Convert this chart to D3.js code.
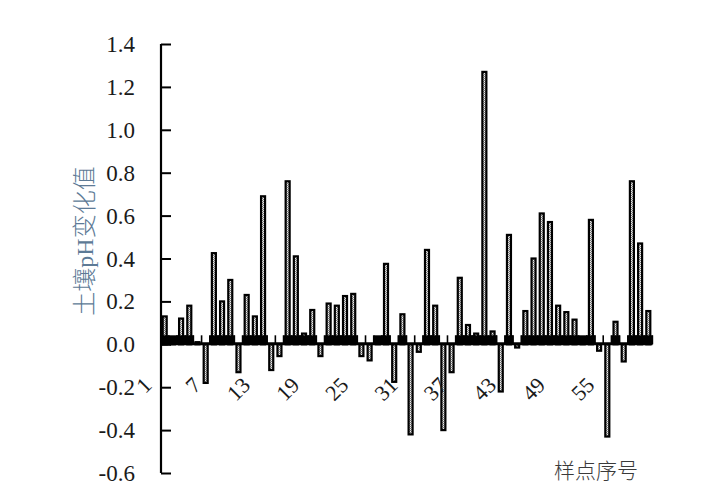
<!DOCTYPE html>
<html>
<head>
<meta charset="utf-8">
<script src="https://cdn.jsdelivr.net/npm/d3@7"></script>
<style>
  html, body { margin: 0; padding: 0; background: #fff; }
  svg { display: block; }
</style>
</head>
<body>
<svg id="chart" width="717" height="490"></svg>
<script>
// ---- data ----
const samples = d3.range(1, 61);
const phChange = [
  0.13, 0.03, 0.12, 0.18, 0.01, -0.18, 0.425, 0.20, 0.30, -0.13,
  0.23, 0.13, 0.69, -0.12, -0.055, 0.76, 0.41, 0.05, 0.16, -0.055,
  0.19, 0.18, 0.225, 0.235, -0.055, -0.075, 0.03, 0.375, -0.175, 0.14,
  -0.42, -0.035, 0.44, 0.18, -0.40, -0.13, 0.31, 0.09, 0.05, 1.27,
  0.06, -0.22, 0.51, -0.015, 0.155, 0.40, 0.61, 0.57, 0.18, 0.15,
  0.115, 0.03, 0.58, -0.03, -0.43, 0.105, -0.08, 0.76, 0.47, 0.155
];
const xTickLabels = [1, 7, 13, 19, 25, 31, 37, 43, 49, 55];
const yTickValues = [-0.6, -0.4, -0.2, 0.0, 0.2, 0.4, 0.6, 0.8, 1.0, 1.2, 1.4];
const yTickLabels = ["-0.6", "-0.4", "-0.2", "0.0", "0.2", "0.4", "0.6", "0.8", "1.0", "1.2", "1.4"];
const yTitle = "土壤pH变化值";
const xTitle = "样点序号";

// ---- drawing ----
const svg = d3.select("#chart");
svg.append("rect").attr("width", 717).attr("height", 490).attr("fill", "#fff");

const defs = svg.append("defs");
const pat = defs.append("pattern").attr("id", "dots")
  .attr("width", 2).attr("height", 2).attr("patternUnits", "userSpaceOnUse");
pat.append("rect").attr("width", 2).attr("height", 2).attr("fill", "#eeeeee");
pat.append("rect").attr("width", 1).attr("height", 1).attr("fill", "#7a7a7a");
pat.append("rect").attr("x", 1).attr("y", 1).attr("width", 1).attr("height", 1).attr("fill", "#7a7a7a");

const x = d3.scaleBand().domain(samples).range([160.6, 652.4]).paddingInner(0).paddingOuter(0);
const y = d3.scaleLinear().domain([-0.6, 1.4]).range([473, 44]);
const y0 = y(0);
const data = samples.map((s, i) => ({ s, v: phChange[i] }));
const fontSerif = "'Liberation Serif', 'Times New Roman', serif";

// bars
const bw = 4.0;
svg.append("g").selectAll("rect").data(data).join("rect")
  .attr("x", d => x(d.s) + x.bandwidth() / 2 - bw / 2)
  .attr("y", d => Math.min(y(d.v), y0))
  .attr("width", bw)
  .attr("height", d => Math.max(0.5, Math.abs(y(d.v) - y0)))
  .attr("fill", "url(#dots)")
  .attr("stroke", "#000")
  .attr("stroke-width", 2.2);

// black band at base of positive bars
const bandH = 9;
svg.append("g").selectAll("rect").data(data.filter(d => d.v >= 0.02)).join("rect")
  .attr("x", d => x(d.s))
  .attr("y", y0 - bandH)
  .attr("width", x.bandwidth() + 0.3)
  .attr("height", bandH)
  .attr("fill", "#000");

// x axis (at zero) with inward ticks at every category boundary
const xAxisG = svg.append("g");
xAxisG.selectAll("line.tk").data(samples).join("line")
  .attr("class", "tk")
  .attr("x1", d => x(d) + x.bandwidth())
  .attr("x2", d => x(d) + x.bandwidth())
  .attr("y1", y0).attr("y2", y0 - bandH)
  .attr("stroke", "#000").attr("stroke-width", 1.6);
xAxisG.append("line")
  .attr("x1", 160.6).attr("x2", 652.4)
  .attr("y1", y0 - 0.5).attr("y2", y0 - 0.5)
  .attr("stroke", "#000").attr("stroke-width", 3);

// x tick labels (rotated)
svg.append("g").selectAll("text").data(xTickLabels).join("text")
  .attr("transform", d => `translate(${x(d) + x.bandwidth() / 2 - 17},381) rotate(-45)`)
  .attr("text-anchor", "end")
  .attr("dy", "0.35em")
  .attr("font-family", fontSerif)
  .attr("font-size", 22)
  .attr("fill", "#1a1a1a")
  .text(d => d);

// y axis
const yAxis = d3.axisRight(y)
  .tickValues(yTickValues)
  .tickSize(10)
  .tickFormat("");
const yG = svg.append("g").attr("transform", "translate(161,0)").call(yAxis);
yG.select(".domain").attr("stroke", "#000").attr("stroke-width", 2.2)
  .attr("d", `M0,${y(1.4)}V${y(-0.6)}`);
yG.selectAll(".tick line").attr("stroke", "#000").attr("stroke-width", 2);

svg.append("g").selectAll("text").data(yTickValues).join("text")
  .attr("x", 135)
  .attr("y", d => y(d))
  .attr("dy", "0.35em")
  .attr("text-anchor", "end")
  .attr("font-family", fontSerif)
  .attr("font-size", 23)
  .attr("fill", "#1a1a1a")
  .text((d, i) => yTickLabels[i]);

// axis titles
svg.append("text")
  .attr("transform", "translate(85,241) rotate(-90)")
  .attr("text-anchor", "middle")
  .attr("dy", "0.35em")
  .attr("font-family", "'Liberation Serif', 'Noto Sans CJK SC', serif")
  .attr("font-weight", 300)
  .attr("font-size", 24)
  .attr("fill", "#5d7a96")
  .text(yTitle);

svg.append("text")
  .attr("x", 596).attr("y", 471)
  .attr("text-anchor", "middle")
  .attr("dy", "0.35em")
  .attr("font-family", "'Noto Sans CJK SC', sans-serif")
  .attr("font-weight", 300)
  .attr("font-size", 21)
  .attr("fill", "#3a3a3a")
  .text(xTitle);
</script>
</body>
</html>
